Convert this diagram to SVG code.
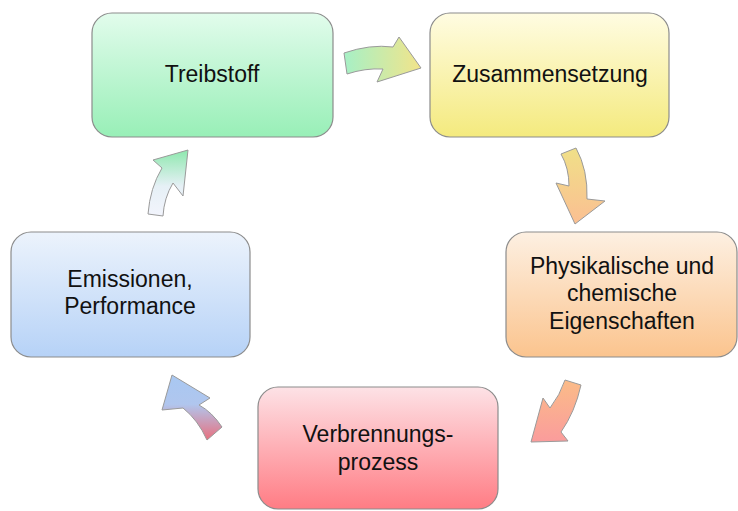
<svg xmlns="http://www.w3.org/2000/svg" width="738" height="511" viewBox="0 0 738 511">
<defs>
<linearGradient id="gGreen" x1="0" y1="0" x2="0" y2="1"><stop offset="0" stop-color="#e2fcec"/><stop offset="1" stop-color="#98efb7"/></linearGradient>
<linearGradient id="gYellow" x1="0" y1="0" x2="0" y2="1"><stop offset="0" stop-color="#fffce2"/><stop offset="1" stop-color="#f4ea7e"/></linearGradient>
<linearGradient id="gOrange" x1="0" y1="0" x2="0" y2="1"><stop offset="0" stop-color="#fdf0e2"/><stop offset="1" stop-color="#fbc48e"/></linearGradient>
<linearGradient id="gBlue" x1="0" y1="0" x2="0" y2="1"><stop offset="0" stop-color="#ecf3fc"/><stop offset="1" stop-color="#b6d2f7"/></linearGradient>
<linearGradient id="gRed" x1="0" y1="0" x2="0" y2="1"><stop offset="0" stop-color="#fde2e6"/><stop offset="1" stop-color="#ff7c84"/></linearGradient>
<linearGradient id="a1" x1="0" y1="0" x2="1" y2="0"><stop offset="0" stop-color="#a6f0c6"/><stop offset="1" stop-color="#f2e48a"/></linearGradient>
<linearGradient id="a2" x1="0" y1="0" x2="0" y2="1"><stop offset="0" stop-color="#f0e088"/><stop offset="1" stop-color="#fbbf92"/></linearGradient>
<linearGradient id="a3" x1="0" y1="0" x2="0" y2="1"><stop offset="0" stop-color="#fbbc88"/><stop offset="1" stop-color="#fa9c9c"/></linearGradient>
<linearGradient id="a4" x1="0" y1="0" x2="0" y2="1"><stop offset="0" stop-color="#a8c8f2"/><stop offset="0.45" stop-color="#b0c6ee"/><stop offset="1" stop-color="#e8707e"/></linearGradient>
<linearGradient id="a5" x1="0" y1="1" x2="0" y2="0"><stop offset="0" stop-color="#f2f4fc"/><stop offset="0.45" stop-color="#e6f0f6"/><stop offset="1" stop-color="#8ee8ae"/></linearGradient>
</defs>
<style>
.box{stroke:#8c8c8c;stroke-width:1.2}
.arr{stroke:#9a9a9a;stroke-width:1;stroke-linejoin:round}
text{font-family:"Liberation Sans",Arial,sans-serif;font-size:23px;fill:#111;text-anchor:middle}
</style>
<g id="connectors">
<path class="arr" fill="url(#a1)" d="M344,53 Q370,44 393,47 L399,37 L421,68 L377,82 L383,69 Q365,68 347,74 Z"/>
<path class="arr" fill="url(#a2)" d="M561,154 L576,148 Q588,170 587,199 L605,201 L575,224 L556,183 L569,186 Q569,168 561,154 Z"/>
<path class="arr" fill="url(#a3)" d="M565,380 L581,385 Q575,412 561,432 L568,441 L531,442 L543,398 L550,408 Q560,395 565,380 Z"/>
<path class="arr" fill="url(#a4)" d="M222,427 Q212,412 199,405 L210,398 L172,375 L162,410 L183,408 Q198,420 207,440 Z"/>
<path class="arr" fill="url(#a5)" d="M148,214 Q150,188 162,168 L153,160 L188,150 L183,196 L173,183 Q164,198 163,216 Z"/>
</g>
<g id="treibstoff">
<rect class="box" x="92" y="13" width="241" height="124" rx="20" fill="url(#gGreen)"/>
<text x="212" y="82">Treibstoff</text>
</g>
<g id="zusammensetzung">
<rect class="box" x="430" y="13" width="239" height="124" rx="20" fill="url(#gYellow)"/>
<text x="550" y="82">Zusammensetzung</text>
</g>
<g id="eigenschaften">
<rect class="box" x="506" y="232" width="231" height="125" rx="20" fill="url(#gOrange)"/>
<text x="622" y="274">Physikalische und</text>
<text x="622" y="301">chemische</text>
<text x="622" y="329">Eigenschaften</text>
</g>
<g id="verbrennungsprozess">
<rect class="box" x="258" y="387" width="240" height="122" rx="20" fill="url(#gRed)"/>
<text x="378" y="442">Verbrennungs-</text>
<text x="378" y="470">prozess</text>
</g>
<g id="emissionen">
<rect class="box" x="11" y="232" width="239" height="125" rx="20" fill="url(#gBlue)"/>
<text x="130" y="287">Emissionen,</text>
<text x="130" y="314">Performance</text>
</g>
</svg>
